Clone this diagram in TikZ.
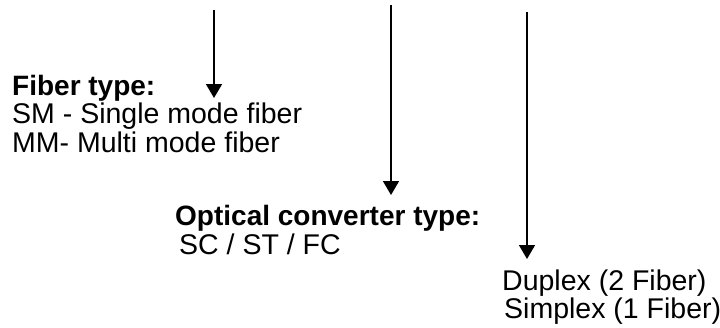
\documentclass[tikz,border=0pt]{standalone}
\usepackage{fontspec}
\setmainfont{Liberation Sans}
\usetikzlibrary{arrows.meta}

\tikzset{
  pointer/.style={line width=1.7pt,-{Triangle[length=14pt,width=16pt]}},
  plaintxt/.style={anchor=base west,inner sep=0pt,font=\fontsize{28.5}{34}\selectfont},
  headtxt/.style={anchor=base west,inner sep=0pt,font=\fontsize{28}{34}\selectfont\bfseries}
}

\begin{document}
\begin{tikzpicture}[x=1pt,y=1pt,yscale=-1,xscale=1]
\useasboundingbox (0,0) rectangle (720,327);

%Straight Lines: the three pointers
\coordinate (fibtop) at (214,10);
\coordinate (fibtip) at (214,98);
\coordinate (convtop) at (391,5);
\coordinate (convtip) at (391,195);
\coordinate (plextop) at (527,12);
\coordinate (plextip) at (527,259);
\draw [pointer] (fibtop) -- (fibtip);
\draw [pointer] (convtop) -- (convtip);
\draw [pointer] (plextop) -- (plextip);

% Text Node
\node [headtxt] (fibertype) at (12,95) {Fiber type:};
% Text Node
\node [plaintxt] (smline) at (12,123) {SM - Single mode fiber};
% Text Node
\node [plaintxt] (mmline) at (12,152) {MM- Multi mode fiber};
% Text Node
\node [headtxt] (convtype) at (175,225) {Optical converter type:};
% Text Node
\node [plaintxt] (convlist) at (179,254) {SC / ST / FC};
% Text Node
\node [plaintxt] (duplex) at (502,290) {Duplex (2 Fiber)};
% Text Node
\node [plaintxt] (simplex) at (504,318) {Simplex (1 Fiber)};

\end{tikzpicture}
\end{document}
